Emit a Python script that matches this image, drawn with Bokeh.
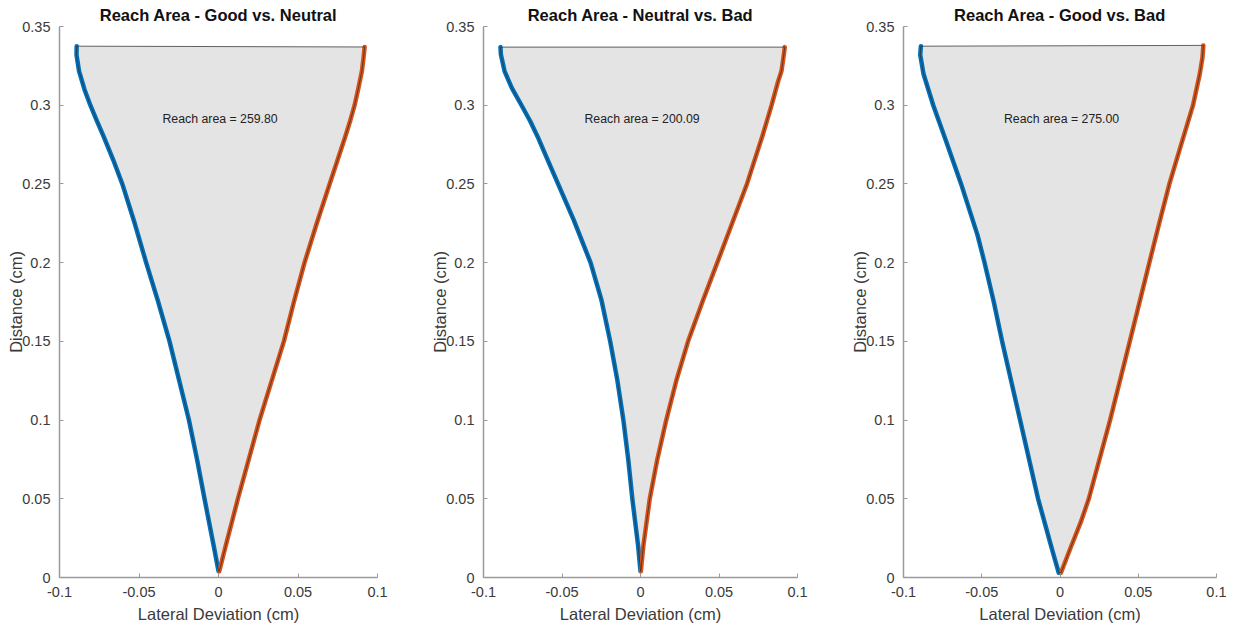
from bokeh.plotting import figure
from bokeh.layouts import row
from bokeh.models import FixedTicker, Label
from bokeh.embed import file_html
from bokeh.resources import INLINE

# ---------------- data ----------------
titles = ["Reach Area - Good vs. Neutral", "Reach Area - Neutral vs. Bad", "Reach Area - Good vs. Bad"]
areas = ["Reach area = 259.80", "Reach area = 200.09", "Reach area = 275.00"]

# Panel 1: Good vs. Neutral
p1_blue_y = [0.004, 0.02, 0.05, 0.075, 0.1, 0.15, 0.176, 0.2, 0.225, 0.25, 0.265, 0.28, 0.29, 0.3, 0.31, 0.3217, 0.332, 0.3375]
p1_blue_x = [0.0, -0.003, -0.0088, -0.0135, -0.0186, -0.0308, -0.0382, -0.0455, -0.0527, -0.0605, -0.0661, -0.0722, -0.0765, -0.0806, -0.0843, -0.0877, -0.0893, -0.0892]
p1_red_y = [0.004, 0.02, 0.05, 0.1, 0.15, 0.175, 0.2, 0.225, 0.25, 0.28, 0.29, 0.3, 0.31, 0.3217, 0.33, 0.337]
p1_red_x = [0.0005, 0.0045, 0.0122, 0.0258, 0.0411, 0.0474, 0.0541, 0.0618, 0.0699, 0.0797, 0.0828, 0.0856, 0.0878, 0.0902, 0.0912, 0.0919]

# Panel 2: Neutral vs. Bad
p2_blue_y = [0.004, 0.02, 0.05, 0.075, 0.1, 0.125, 0.15, 0.176, 0.2, 0.227, 0.25, 0.265, 0.28, 0.29, 0.3, 0.311, 0.3217, 0.332, 0.3369]
p2_blue_x = [0.0, -0.0015, -0.0052, -0.0078, -0.0109, -0.0147, -0.0193, -0.0248, -0.0318, -0.0425, -0.0525, -0.059, -0.0655, -0.0703, -0.0758, -0.082, -0.0866, -0.0889, -0.0892]
p2_red_y = [0.004, 0.02, 0.05, 0.075, 0.1, 0.125, 0.15, 0.175, 0.2, 0.25, 0.28, 0.3, 0.315, 0.3217, 0.33, 0.3369]
p2_red_x = [0.0002, 0.0018, 0.0059, 0.0107, 0.0164, 0.0228, 0.0303, 0.0394, 0.0489, 0.0678, 0.0775, 0.0835, 0.0876, 0.0898, 0.091, 0.0919]

# Panel 3: Good vs. Bad
p3_blue_y = [0.003, 0.0175, 0.05, 0.1, 0.15, 0.175, 0.2, 0.2175, 0.25, 0.2766, 0.3, 0.3198, 0.332, 0.3375]
p3_blue_x = [-0.0008, -0.005, -0.014, -0.0255, -0.037, -0.0423, -0.0482, -0.0527, -0.0632, -0.0726, -0.081, -0.0872, -0.0893, -0.0889]
p3_red_y = [0.003, 0.02, 0.035, 0.05, 0.1, 0.15, 0.2, 0.225, 0.25, 0.2743, 0.3, 0.3198, 0.33, 0.338]
p3_red_x = [0.0006, 0.0072, 0.0132, 0.0184, 0.032, 0.0446, 0.0571, 0.0634, 0.0699, 0.0772, 0.0850, 0.0893, 0.091, 0.0916]

x_ticks = [-0.1, -0.05, 0, 0.05, 0.1]
x_tick_labels = ["-0.1", "-0.05", "0", "0.05", "0.1"]
y_ticks = [0, 0.05, 0.1, 0.15, 0.2, 0.25, 0.3, 0.35]
y_tick_labels = ["0", "0.05", "0.1", "0.15", "0.2", "0.25", "0.3", "0.35"]

panels = [
    (p1_blue_x, p1_blue_y, p1_red_x, p1_red_y),
    (p2_blue_x, p2_blue_y, p2_red_x, p2_red_y),
    (p3_blue_x, p3_blue_y, p3_red_x, p3_red_y),
]
left_borders = [59, 51, 50]
widths = [428, 420, 378]

FONT = "Liberation Sans"
BLUE = "#0072BD"
RED = "#D95319"
AXC = "#9a9a9a"
TXT = "#3a3a3a"

figs = []
for i, (bx, by, rx, ry) in enumerate(panels):
    p = figure(width=widths[i], height=629, x_range=(-0.1, 0.1), y_range=(0, 0.35),
               output_backend="svg", toolbar_location=None,
               min_border_left=left_borders[i], min_border_right=widths[i] - left_borders[i] - 318,
               min_border_top=26, min_border_bottom=52)
    p.title.text = titles[i]
    p.title.align = "center"
    p.title.text_font = FONT
    p.title.text_font_size = "16.5px"
    p.title.text_font_style = "bold"
    p.title.text_color = "#111111"
    p.title.standoff = 6
    p.title.offset = 0
    p.grid.visible = False
    p.outline_line_color = None
    p.background_fill_color = "white"

    p.xaxis.ticker = FixedTicker(ticks=x_ticks)
    p.xaxis.major_label_overrides = dict(zip(x_ticks, x_tick_labels))
    p.yaxis.ticker = FixedTicker(ticks=y_ticks)
    p.yaxis.major_label_overrides = dict(zip(y_ticks, y_tick_labels))
    for ax in (p.xaxis, p.yaxis):
        ax.axis_line_color = AXC
        ax.axis_line_width = 1.5
        ax.major_tick_line_color = AXC
        ax.major_tick_in = 4
        ax.major_tick_out = 0
        ax.minor_tick_line_color = None
        ax.major_label_text_font = FONT
        ax.major_label_text_font_size = "14.5px"
        ax.major_label_text_color = TXT
        ax.axis_label_text_font = FONT
        ax.axis_label_text_font_size = "16.5px"
        ax.axis_label_text_color = TXT
        ax.axis_label_text_font_style = "normal"
    p.xaxis.axis_label = "Lateral Deviation (cm)"
    p.yaxis.axis_label = "Distance (cm)"
    p.xaxis.major_label_standoff = 9
    p.yaxis.major_label_standoff = 9
    p.xaxis.axis_label_standoff = 5
    p.yaxis.axis_label_standoff = -6

    px = list(bx) + list(rx)[::-1]
    py = list(by) + list(ry)[::-1]
    p.patch(px, py, fill_color="#e4e4e4", line_color=None)
    p.line(bx, by, line_color=BLUE, line_width=4.5, line_cap="round", line_join="round")
    p.line(rx, ry, line_color=RED, line_width=4.5, line_cap="round", line_join="round")
    p.patch(px, py, fill_alpha=0, line_color="#303030", line_width=1, line_alpha=0.75)

    p.add_layout(Label(x=0.001, y=0.291, text=areas[i], text_align="center", text_baseline="middle",
                       text_font=FONT, text_font_size="12.3px", text_color="#222222"))
    figs.append(p)

layout = row(*figs)
open("out.html", "w").write(file_html(layout, INLINE))
